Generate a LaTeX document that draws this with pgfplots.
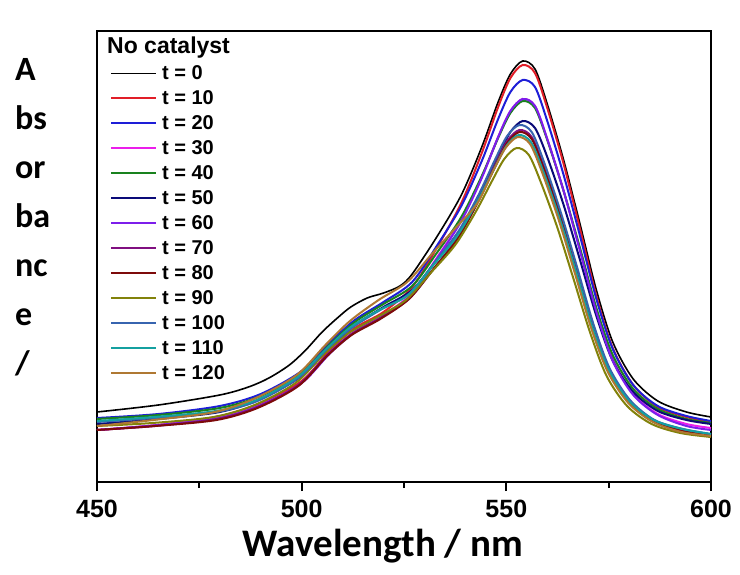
\documentclass[border=0pt]{standalone}
\usepackage{fontspec}
\setmainfont{Liberation Sans}
\newfontfamily\calibri{Carlito}
\usepackage{pgfplots}
\pgfplotsset{compat=1.18}
\definecolor{cRed}{RGB}{225,30,40}
\definecolor{cBlue}{RGB}{30,30,215}
\definecolor{cMag}{RGB}{235,30,235}
\definecolor{cGreen}{RGB}{25,130,30}
\definecolor{cNavy}{RGB}{10,10,120}
\definecolor{cViolet}{RGB}{125,30,235}
\definecolor{cPurple}{RGB}{128,15,128}
\definecolor{cDRed}{RGB}{125,10,10}
\definecolor{cOlive}{RGB}{130,130,10}
\definecolor{cSteel}{RGB}{55,100,175}
\definecolor{cTeal}{RGB}{20,160,160}
\definecolor{cBrown}{RGB}{175,120,50}
\begin{document}
\begin{tikzpicture}
\useasboundingbox (-97pt,-92pt) rectangle (643pt,482pt);
\begin{axis}[
  scale only axis, width=614pt, height=451pt,
  xmin=450, xmax=600, ymin=0, ymax=451,
  axis line style={line width=2.5pt},
  xtick={450,500,550,600}, minor xtick={475,525,575},
  xticklabels={450,500,550,600},
  ytick=\empty, xtick pos=bottom,
  tick align=outside,
  major tick length=9pt, minor tick length=6pt,
  tick style={line width=2.2pt, black},
  /pgf/number format/assume math mode=true,
  xticklabel style={font=\bfseries\fontsize{25}{25}\selectfont, yshift=-6pt},
  legend style={draw=none, fill=none, at={(axis description cs:0.021,0.921)}, anchor=north west,
    inner sep=0pt, row sep=12pt,
    nodes={inner xsep=5pt, inner ysep=0pt, text height=13pt, text depth=0pt, font=\bfseries\fontsize{20}{20}\selectfont}},
  legend cell align=left,
  legend image code/.code={\draw[#1] (0pt,0pt) -- (45pt,0pt);},
]
\addplot[black, line width=1.6pt, smooth] coordinates {(450,70)(465,77)(480,87)(487,95)(492,104)(497,117)(501,132)(505,150)(509,165)(512,175)(516,184)(520,189)(524,196)(527,208)(533,245)(539,287)(544,335)(548,380)(551,408)(554,421)(557,413)(560,378)(564,322)(568,258)(572,192)(576,140)(581,103)(587,81)(594,70)(600,65)};
\addlegendentry{t = 0}
\addplot[cRed, line width=2pt, smooth] coordinates {(450,52)(465,57)(480,66)(490,79)(500,101)(507,132)(513,154)(520,170)(527,195)(533,234)(539,279)(544,329)(548,375)(551,404)(554,417)(557,409)(560,374)(564,318)(568,253)(572,186)(576,134)(581,97)(587,75)(594,65)(600,60)};
\addlegendentry{t = 10}
\addplot[cBlue, line width=2pt, smooth] coordinates {(450,64)(465,68)(480,76)(490,88)(500,111)(507,140)(513,162)(520,180)(527,200)(533,236)(539,276)(544,321)(548,363)(551,390)(554,402)(557,395)(560,361)(564,307)(568,246)(572,183)(576,133)(581,97)(587,76)(594,66)(600,61)};
\addlegendentry{t = 20}
\addplot[cMag, line width=2pt, smooth] coordinates {(450,52)(465,57)(480,65)(490,77)(500,99)(507,130)(513,151)(520,167)(527,189)(533,224)(539,262)(544,305)(548,345)(551,371)(554,383)(557,376)(560,343)(564,291)(568,232)(572,171)(576,123)(581,88)(587,68)(594,58)(600,54)};
\addlegendentry{t = 30}
\addplot[cGreen, line width=2pt, smooth] coordinates {(450,63)(465,67)(480,74)(490,86)(500,109)(507,138)(513,160)(520,178)(527,196)(533,229)(539,265)(544,306)(548,344)(551,369)(554,381)(557,374)(560,342)(564,291)(568,234)(572,174)(576,127)(581,93)(587,73)(594,63)(600,59)};
\addlegendentry{t = 40}
\addplot[cNavy, line width=2pt, smooth] coordinates {(450,58)(465,63)(480,70)(490,83)(500,106)(507,135)(513,157)(520,175)(527,192)(533,222)(539,254)(544,291)(548,326)(551,350)(554,361)(557,354)(560,325)(564,277)(568,222)(572,166)(576,121)(581,90)(587,71)(594,62)(600,58)};
\addlegendentry{t = 50}
\addplot[cViolet, line width=2pt, smooth] coordinates {(450,52)(465,57)(480,64)(490,77)(500,99)(507,129)(513,150)(520,166)(527,188)(533,223)(539,261)(544,304)(548,345)(551,371)(554,383)(557,376)(560,343)(564,291)(568,231)(572,170)(576,121)(581,87)(587,67)(594,56)(600,52)};
\addlegendentry{t = 60}
\addplot[cPurple, line width=2pt, smooth] coordinates {(450,52)(464.2,56)(479.2,63)(489.2,75)(499.2,97)(506.2,127)(512.2,148)(519.2,164)(526.2,183)(532.2,213)(538.2,245)(543.2,282)(547.2,317)(550.2,341)(553.2,352)(556.2,345)(559.2,315)(563.2,267)(567.2,212)(571.2,156)(575.2,111)(580.2,80)(586.2,61)(593.2,51)(600,47)};
\addlegendentry{t = 70}
\addplot[cDRed, line width=2pt, smooth] coordinates {(450,52)(464.2,56)(479.2,62)(489.2,74)(499.2,96)(506.2,126)(512.2,147)(519.2,163)(526.2,183)(532.2,213)(538.2,244)(543.2,281)(547.2,315)(550.2,339)(553.2,350)(556.2,343)(559.2,313)(563.2,266)(567.2,211)(571.2,155)(575.2,110)(580.2,79)(586.2,60)(593.2,51)(600,47)};
\addlegendentry{t = 80}
\addplot[cOlive, line width=2pt, smooth] coordinates {(450,56)(463.5,59)(478.5,65)(488.5,77)(498.5,99)(505.5,128)(511.5,149)(518.5,165)(525.5,182)(531.5,209)(537.5,237)(542.5,270)(546.5,301)(549.5,323)(552.5,334)(555.5,327)(558.5,299)(562.5,254)(566.5,202)(570.5,149)(574.5,106)(579.5,76)(585.5,58)(592.5,49)(600,45)};
\addlegendentry{t = 90}
\addplot[cSteel, line width=2pt, smooth] coordinates {(450,60)(464.2,64)(479.2,70)(489.2,81)(499.2,104)(506.2,133)(512.2,154)(519.2,172)(526.2,188)(532.2,218)(538.2,250)(543.2,287)(547.2,322)(550.2,346)(553.2,357)(556.2,350)(559.2,320)(563.2,271)(567.2,216)(571.2,159)(575.2,114)(580.2,82)(586.2,62)(593.2,53)(600,48)};
\addlegendentry{t = 100}
\addplot[cTeal, line width=2pt, smooth] coordinates {(450,61)(464,65)(479,71)(489,82)(499,105)(506,133)(512,155)(519,172)(526,187)(532,216)(538,246)(543,281)(547,313)(550,336)(553,347)(556,340)(559,311)(563,264)(567,211)(571,155)(575,112)(580,81)(586,62)(593,53)(600,48)};
\addlegendentry{t = 110}
\addplot[cBrown, line width=2pt, smooth] coordinates {(450,56)(463.8,62)(478.8,70)(488.8,84)(498.8,107)(505.8,137)(511.8,161)(518.8,182)(525.8,200)(531.8,228)(537.8,255)(542.8,278)(546.8,311)(549.8,334)(552.8,345)(555.8,338)(558.8,309)(562.8,262)(566.8,208)(570.8,153)(574.8,110)(579.8,79)(585.8,60)(592.8,50)(600,46)};
\addlegendentry{t = 120}
\end{axis}
\node[anchor=west, inner sep=0pt, font=\bfseries\fontsize{23}{23}\selectfont] at (10pt,434pt) {No catalyst};
\node[anchor=north west, inner sep=0pt, align=left, font=\calibri\bfseries\fontsize{34}{49}\selectfont] at (-82pt,424pt) {A\\bs\\or\\ba\\nc\\e\\/};
\node[inner sep=0pt, font=\calibri\bfseries\fontsize{39}{39}\selectfont] at (286pt,-64pt) {Wavelength / nm};
\end{tikzpicture}
\end{document}
